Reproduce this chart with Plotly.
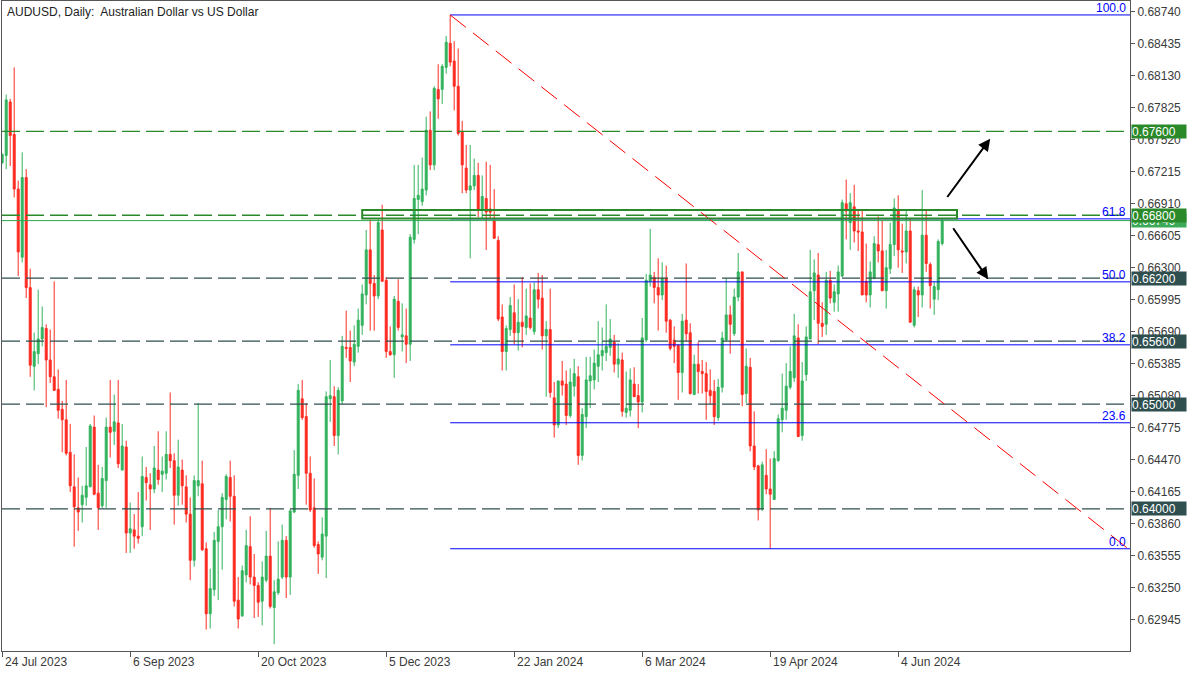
import plotly.graph_objects as go

# ---------------- data (AUDUSD daily) ----------------
opens = [0.6730, 0.6737, 0.6788, 0.6757, 0.6705, 0.6640, 0.6716, 0.6611, 0.6536, 0.6548,
         0.6562, 0.6572, 0.6542, 0.6526, 0.6514, 0.6495, 0.6485, 0.6454, 0.6421, 0.6401,
         0.6404, 0.6411, 0.6421, 0.6478, 0.6415, 0.6403, 0.6427, 0.6478, 0.6474, 0.6482,
         0.6437, 0.6459, 0.6377, 0.6380, 0.6374, 0.6383, 0.6430, 0.6423, 0.6419, 0.6437,
         0.6433, 0.6434, 0.6452, 0.6446, 0.6413, 0.6437, 0.6421, 0.6395, 0.6351, 0.6422,
         0.6424, 0.6362, 0.6300, 0.6323, 0.6369, 0.6383, 0.6409, 0.6430, 0.6412, 0.6313,
         0.6298, 0.6337, 0.6364, 0.6335, 0.6327, 0.6312, 0.6332, 0.6355, 0.6306, 0.6320,
         0.6335, 0.6370, 0.6335, 0.6397, 0.6432, 0.6505, 0.6488, 0.6434, 0.6401, 0.6366,
         0.6354, 0.6374, 0.6505, 0.6507, 0.6470, 0.6503, 0.6554, 0.6554, 0.6540, 0.6555,
         0.6575, 0.6604, 0.6647, 0.6615, 0.6603, 0.6666, 0.6618, 0.6550, 0.6547, 0.6598,
         0.6564, 0.6565, 0.6557, 0.6657, 0.6695, 0.6693, 0.6704, 0.6761, 0.6728, 0.6800,
         0.6800, 0.6821, 0.6844, 0.6827, 0.6803, 0.6760, 0.6725, 0.6704, 0.6708, 0.6718,
         0.6686, 0.6696, 0.6686, 0.6675, 0.6656, 0.6583, 0.6550, 0.6571, 0.6587, 0.6568,
         0.6578, 0.6573, 0.6582, 0.6569, 0.6609, 0.6601, 0.6565, 0.6571, 0.6506, 0.6480,
         0.6522, 0.6519, 0.6489, 0.6517, 0.6526, 0.6451, 0.6488, 0.6522, 0.6523, 0.6536,
         0.6546, 0.6549, 0.6554, 0.6559, 0.6538, 0.6542, 0.6492, 0.6494, 0.6519, 0.6508,
         0.6502, 0.6561, 0.6617, 0.6621, 0.6611, 0.6604, 0.6620, 0.6580, 0.6561, 0.6556,
         0.6530, 0.6580, 0.6568, 0.6509, 0.6538, 0.6531, 0.6529, 0.6513, 0.6512, 0.6487,
         0.6516, 0.6561, 0.6585, 0.6567, 0.6602, 0.6626, 0.6510, 0.6535, 0.6460, 0.6441,
         0.6400, 0.6432, 0.6419, 0.6409, 0.6446, 0.6485, 0.6494, 0.6516, 0.6525, 0.6563,
         0.6470, 0.6528, 0.6562, 0.6608, 0.6623, 0.6577, 0.6576, 0.6618, 0.6597, 0.6605,
         0.6622, 0.6691, 0.6673, 0.6688, 0.6665, 0.6664, 0.6617, 0.6604, 0.6620, 0.6652,
         0.6646, 0.6608, 0.6629, 0.6652, 0.6684, 0.6646, 0.6645, 0.6665, 0.6575, 0.6608,
         0.6604, 0.6661, 0.6633, 0.6600, 0.6609, 0.6653]
highs = [0.6739, 0.6795, 0.6791, 0.6821, 0.6713, 0.6740, 0.6724, 0.6629, 0.6568, 0.6609,
         0.6593, 0.6576, 0.6571, 0.6617, 0.6533, 0.6503, 0.6523, 0.6481, 0.6452, 0.6430,
         0.6422, 0.6459, 0.6481, 0.6489, 0.6442, 0.6440, 0.6487, 0.6523, 0.6509, 0.6523,
         0.6481, 0.6465, 0.6406, 0.6395, 0.6416, 0.6450, 0.6440, 0.6434, 0.6460, 0.6474,
         0.6450, 0.6474, 0.6511, 0.6453, 0.6466, 0.6447, 0.6432, 0.6411, 0.6432, 0.6501,
         0.6446, 0.6368, 0.6343, 0.6378, 0.6399, 0.6415, 0.6433, 0.6446, 0.6432, 0.6335,
         0.6346, 0.6380, 0.6393, 0.6357, 0.6330, 0.6350, 0.6379, 0.6401, 0.6332, 0.6369,
         0.6385, 0.6374, 0.6400, 0.6456, 0.6519, 0.6523, 0.6501, 0.6450, 0.6429, 0.6369,
         0.6392, 0.6512, 0.6542, 0.6517, 0.6516, 0.6565, 0.6589, 0.6570, 0.6575, 0.6591,
         0.6614, 0.6666, 0.6676, 0.6623, 0.6676, 0.6690, 0.6621, 0.6574, 0.6603, 0.6619,
         0.6596, 0.6591, 0.6662, 0.6728, 0.6728, 0.6735, 0.6774, 0.6779, 0.6803, 0.6824,
         0.6824, 0.6851, 0.6871, 0.6846, 0.6839, 0.6770, 0.6747, 0.6747, 0.6734, 0.6730,
         0.6718, 0.6731, 0.6728, 0.6705, 0.6660, 0.6595, 0.6575, 0.6602, 0.6614, 0.6600,
         0.6621, 0.6610, 0.6615, 0.6616, 0.6625, 0.6623, 0.6579, 0.6610, 0.6521, 0.6522,
         0.6541, 0.6532, 0.6534, 0.6543, 0.6536, 0.6496, 0.6545, 0.6545, 0.6552, 0.6579,
         0.6573, 0.6595, 0.6581, 0.6566, 0.6558, 0.6549, 0.6531, 0.6534, 0.6535, 0.6519,
         0.6582, 0.6624, 0.6667, 0.6626, 0.6639, 0.6635, 0.6632, 0.6581, 0.6574, 0.6557,
         0.6586, 0.6634, 0.6577, 0.6547, 0.6559, 0.6542, 0.6540, 0.6533, 0.6523, 0.6524,
         0.6569, 0.6620, 0.6594, 0.6610, 0.6644, 0.6626, 0.6553, 0.6544, 0.6493, 0.6442,
         0.6445, 0.6457, 0.6448, 0.6455, 0.6490, 0.6529, 0.6539, 0.6555, 0.6586, 0.6576,
         0.6540, 0.6574, 0.6647, 0.6638, 0.6644, 0.6597, 0.6626, 0.6627, 0.6614, 0.6632,
         0.6695, 0.6714, 0.6701, 0.6709, 0.6685, 0.6685, 0.6653, 0.6636, 0.6660, 0.6679,
         0.6675, 0.6647, 0.6673, 0.6696, 0.6699, 0.6672, 0.6684, 0.6677, 0.6612, 0.6612,
         0.6704, 0.6685, 0.6635, 0.6617, 0.6657, 0.6677]
lows = [0.6729, 0.6724, 0.6727, 0.6697, 0.6622, 0.6635, 0.6601, 0.6526, 0.6513, 0.6538,
        0.6555, 0.6497, 0.6520, 0.6513, 0.6486, 0.6454, 0.6451, 0.6416, 0.6364, 0.6379,
        0.6387, 0.6403, 0.6421, 0.6413, 0.6380, 0.6401, 0.6401, 0.6449, 0.6461, 0.6439,
        0.6437, 0.6358, 0.6358, 0.6362, 0.6367, 0.6374, 0.6408, 0.6380, 0.6415, 0.6423,
        0.6416, 0.6428, 0.6439, 0.6385, 0.6403, 0.6404, 0.6387, 0.6332, 0.6345, 0.6412,
        0.6360, 0.6285, 0.6286, 0.6317, 0.6313, 0.6342, 0.6390, 0.6388, 0.6307, 0.6286,
        0.6297, 0.6330, 0.6328, 0.6296, 0.6297, 0.6289, 0.6330, 0.6305, 0.6271, 0.6318,
        0.6333, 0.6315, 0.6318, 0.6396, 0.6419, 0.6485, 0.6404, 0.6397, 0.6363, 0.6338,
        0.6351, 0.6334, 0.6483, 0.6460, 0.6452, 0.6500, 0.6544, 0.6521, 0.6536, 0.6549,
        0.6566, 0.6595, 0.6570, 0.6570, 0.6600, 0.6617, 0.6544, 0.6546, 0.6525, 0.6570,
        0.6550, 0.6539, 0.6541, 0.6653, 0.6662, 0.6689, 0.6699, 0.6723, 0.6723, 0.6772,
        0.6786, 0.6815, 0.6822, 0.6780, 0.6756, 0.6701, 0.6701, 0.6639, 0.6704, 0.6678,
        0.6677, 0.6647, 0.6677, 0.6658, 0.6579, 0.6532, 0.6532, 0.6565, 0.6557, 0.6551,
        0.6554, 0.6566, 0.6571, 0.6566, 0.6591, 0.6552, 0.6507, 0.6506, 0.6468, 0.6477,
        0.6508, 0.6480, 0.6487, 0.6507, 0.6442, 0.6446, 0.6477, 0.6496, 0.6514, 0.6521,
        0.6532, 0.6541, 0.6546, 0.6530, 0.6525, 0.6488, 0.6487, 0.6488, 0.6507, 0.6477,
        0.6492, 0.6559, 0.6612, 0.6596, 0.6570, 0.6599, 0.6568, 0.6551, 0.6539, 0.6504,
        0.6511, 0.6560, 0.6509, 0.6509, 0.6510, 0.6510, 0.6485, 0.6500, 0.6480, 0.6484,
        0.6511, 0.6560, 0.6548, 0.6565, 0.6598, 0.6498, 0.6501, 0.6455, 0.6437, 0.6389,
        0.6398, 0.6414, 0.6362, 0.6409, 0.6445, 0.6473, 0.6485, 0.6514, 0.6521, 0.6469,
        0.6465, 0.6522, 0.6562, 0.6580, 0.6557, 0.6564, 0.6566, 0.6596, 0.6588, 0.6588,
        0.6621, 0.6657, 0.6647, 0.6654, 0.6646, 0.6604, 0.6597, 0.6592, 0.6619, 0.6635,
        0.6608, 0.6591, 0.6624, 0.6641, 0.6630, 0.6625, 0.6634, 0.6578, 0.6573, 0.6583,
        0.6592, 0.6626, 0.6591, 0.6585, 0.6599, 0.6651]
closes = [0.6738, 0.6790, 0.6756, 0.6705, 0.6645, 0.6716, 0.6611, 0.6537, 0.6550, 0.6562,
          0.6573, 0.6542, 0.6526, 0.6513, 0.6494, 0.6485, 0.6453, 0.6422, 0.6402, 0.6397,
          0.6413, 0.6422, 0.6479, 0.6414, 0.6401, 0.6429, 0.6478, 0.6473, 0.6483, 0.6443,
          0.6460, 0.6377, 0.6381, 0.6374, 0.6372, 0.6431, 0.6425, 0.6419, 0.6439, 0.6428,
          0.6436, 0.6452, 0.6446, 0.6413, 0.6440, 0.6422, 0.6395, 0.6351, 0.6427, 0.6427,
          0.6361, 0.6300, 0.6324, 0.6370, 0.6383, 0.6411, 0.6431, 0.6412, 0.6312, 0.6295,
          0.6341, 0.6365, 0.6335, 0.6327, 0.6311, 0.6335, 0.6355, 0.6307, 0.6321, 0.6333,
          0.6370, 0.6335, 0.6398, 0.6433, 0.6513, 0.6487, 0.6434, 0.6399, 0.6365, 0.6357,
          0.6376, 0.6507, 0.6508, 0.6470, 0.6513, 0.6555, 0.6553, 0.6541, 0.6557, 0.6580,
          0.6605, 0.6647, 0.6615, 0.6603, 0.6673, 0.6617, 0.6550, 0.6547, 0.6600, 0.6573,
          0.6566, 0.6557, 0.6659, 0.6696, 0.6699, 0.6705, 0.6761, 0.6728, 0.6801, 0.6791,
          0.6822, 0.6845, 0.6826, 0.6803, 0.6758, 0.6728, 0.6704, 0.6708, 0.6718, 0.6686,
          0.6698, 0.6683, 0.6683, 0.6658, 0.6581, 0.6550, 0.6572, 0.6594, 0.6568, 0.6578,
          0.6574, 0.6584, 0.6573, 0.6609, 0.6600, 0.6565, 0.6571, 0.6511, 0.6480, 0.6522,
          0.6518, 0.6489, 0.6521, 0.6529, 0.6451, 0.6490, 0.6523, 0.6527, 0.6539, 0.6547,
          0.6551, 0.6555, 0.6562, 0.6538, 0.6543, 0.6493, 0.6496, 0.6523, 0.6507, 0.6502,
          0.6563, 0.6618, 0.6623, 0.6611, 0.6604, 0.6620, 0.6579, 0.6553, 0.6555, 0.6530,
          0.6579, 0.6567, 0.6510, 0.6538, 0.6531, 0.6529, 0.6512, 0.6508, 0.6488, 0.6516,
          0.6563, 0.6585, 0.6576, 0.6602, 0.6626, 0.6509, 0.6536, 0.6460, 0.6440, 0.6399,
          0.6442, 0.6419, 0.6414, 0.6448, 0.6486, 0.6496, 0.6517, 0.6531, 0.6565, 0.6469,
          0.6522, 0.6564, 0.6607, 0.6625, 0.6577, 0.6574, 0.6618, 0.6601, 0.6607, 0.6626,
          0.6692, 0.6684, 0.6692, 0.6665, 0.6664, 0.6604, 0.6604, 0.6626, 0.6653, 0.6646,
          0.6608, 0.6630, 0.6652, 0.6687, 0.6647, 0.6645, 0.6665, 0.6578, 0.6609, 0.6604,
          0.6661, 0.6634, 0.6613, 0.6612, 0.6655, 0.6675]

# date axis: bar positions of the date labels and their texts
date_tick_bars = [0, 32, 64, 96, 128, 160, 192, 224]
date_tick_labels = ["24 Jul 2023", "6 Sep 2023", "20 Oct 2023", "5 Dec 2023",
                    "22 Jan 2024", "6 Mar 2024", "19 Apr 2024", "4 Jun 2024"]

# price axis
price_ticks = [0.62945, 0.63250, 0.63555, 0.63860, 0.64165, 0.64470, 0.64775,
               0.65080, 0.65385, 0.65690, 0.65995, 0.66300, 0.66605, 0.66910,
               0.67215, 0.67520, 0.67825, 0.68130, 0.68435, 0.68740]
price_tick_labels = ["0.62945", "0.63250", "0.63555", "0.63860", "0.64165", "0.64470",
                     "0.64775", "0.65080", "0.65385", "0.65690", "0.65995", "0.66300",
                     "0.66605", "0.66910", "0.67215", "0.67520", "0.67825", "0.68130",
                     "0.68435", "0.68740"]

# horizontal levels
level_values = [0.6760, 0.6680, 0.6620, 0.6560, 0.6500, 0.6400]
level_texts = ["0.67600", "0.66800", "0.66200", "0.65600", "0.65000", "0.64000"]
level_colors = ["#2A8A2A", "#2A8A2A", "#2F4F4F", "#2F4F4F", "#2F4F4F", "#2F4F4F"]
last_price = 0.66749
last_price_text = "0.66749"

# Fibonacci retracement (Dec 28 2023 high -> Apr 19 2024 low)
fib_high = 0.6871
fib_low = 0.6362
fib_start_bar = 112
fib_end_bar = 281.5
fib_ratios = [0.0, 23.6, 38.2, 50.0, 61.8, 100.0]
fib_texts = ["0.0", "23.6", "38.2", "50.0", "61.8", "100.0"]

# resistance zone box
zone_bars = [90, 238.7]
zone_prices = [0.6677, 0.6685]

# scenario arrows: (tail bar, tail price, head bar, head price)
arrow_up = [236.0, 0.6696, 247.0, 0.6753]
arrow_down = [237.5, 0.6669, 246.5, 0.6619]

# ---------------- figure ----------------
GREEN = "#33B25C"
RED = "#FF2A20"
AXIS = "#555555"
TXT = "#3a3a3a"
FONT = "Liberation Sans"

x_range = [-0.05, 281.95]
y_range = [0.62645, 0.68843]

bars = list(range(len(opens)))

fig = go.Figure()
fig.add_trace(go.Candlestick(
    x=bars, open=opens, high=highs, low=lows, close=closes,
    increasing=dict(line=dict(color=GREEN, width=1), fillcolor=GREEN),
    decreasing=dict(line=dict(color=RED, width=1), fillcolor=RED),
    whiskerwidth=0, hoverinfo="skip", showlegend=False,
))

shapes = []
# current price line
shapes.append(dict(type="line", xref="paper", yref="y", x0=0, x1=1,
                   y0=last_price, y1=last_price, layer="above",
                   line=dict(color="#2DA84E", width=1)))
# dashed horizontal levels
for v, c in zip(level_values, level_colors):
    shapes.append(dict(type="line", xref="paper", yref="y", x0=0, x1=1,
                       y0=v, y1=v, layer="above",
                       line=dict(color=c, width=1.3, dash="18px,6px")))
# fibonacci levels
for r in fib_ratios:
    lv = fib_low + r / 100.0 * (fib_high - fib_low)
    shapes.append(dict(type="line", xref="x", yref="y", x0=fib_start_bar, x1=x_range[1],
                       y0=lv, y1=lv, layer="above",
                       line=dict(color="#0000FF", width=1)))
# fibonacci trend line
shapes.append(dict(type="line", xref="x", yref="y", x0=fib_start_bar, x1=fib_end_bar,
                   y0=fib_high, y1=fib_low, layer="above",
                   line=dict(color="#FF0000", width=1, dash="20px,9px")))
# zone rectangle
shapes.append(dict(type="rect", xref="x", yref="y", x0=zone_bars[0], x1=zone_bars[1],
                   y0=zone_prices[0], y1=zone_prices[1], layer="above",
                   line=dict(color="#2A8A2A", width=2), fillcolor="rgba(0,0,0,0)"))

annotations = []
# title
annotations.append(dict(xref="paper", yref="paper", x=0.003, y=1 - 11 / 650,
                        xanchor="left", yanchor="middle", showarrow=False,
                        text="AUDUSD, Daily:\u00a0 Australian Dollar vs US Dollar",
                        font=dict(family=FONT, size=12, color="#222222")))
# date labels (left aligned at their bar)
for b, t in zip(date_tick_bars, date_tick_labels):
    annotations.append(dict(xref="x", yref="paper", x=b + 0.1, y=-11 / 650,
                            xanchor="left", yanchor="middle", showarrow=False,
                            text=t, font=dict(family=FONT, size=12, color=TXT)))
# fibonacci labels
for r, t in zip(fib_ratios, fib_texts):
    lv = fib_low + r / 100.0 * (fib_high - fib_low)
    annotations.append(dict(xref="paper", yref="y", x=0.9985, y=lv,
                            xanchor="right", yanchor="bottom", showarrow=False,
                            text=t, yshift=-2,
                            font=dict(family=FONT, size=12, color="#0000FF")))
# current price tag (partly hidden)
annotations.append(dict(xref="paper", yref="y", x=1.0009, y=last_price,
                        xanchor="left", yanchor="middle", showarrow=False,
                        text=last_price_text, width=54, height=13, align="left",
                        bgcolor="#3DAA5A", borderpad=0,
                        font=dict(family=FONT, size=12, color="white")))
# level price tags
for v, t, c in zip(level_values, level_texts, level_colors):
    annotations.append(dict(xref="paper", yref="y", x=1.0009, y=v,
                            xanchor="left", yanchor="middle", showarrow=False,
                            text=t, width=54, height=13, align="left",
                            bgcolor=c, borderpad=0,
                            font=dict(family=FONT, size=12, color="white")))
# arrows
for a in (arrow_up, arrow_down):
    annotations.append(dict(xref="x", yref="y", axref="x", ayref="y",
                            x=a[2], y=a[3], ax=a[0], ay=a[1], text="",
                            showarrow=True, arrowhead=2, arrowsize=1.2,
                            arrowwidth=2, arrowcolor="#000000"))

fig.update_layout(
    width=1200, height=675,
    margin=dict(l=2, r=70, t=1, b=24),
    paper_bgcolor="white", plot_bgcolor="white",
    showlegend=False, hovermode=False,
    shapes=shapes, annotations=annotations,
    xaxis=dict(range=x_range, showgrid=False, zeroline=False,
               rangeslider=dict(visible=False),
               tickmode="array", tickvals=date_tick_bars, showticklabels=False,
               ticks="outside", ticklen=5, tickcolor=AXIS,
               showline=True, linecolor=AXIS, linewidth=1, mirror=True),
    yaxis=dict(range=y_range, side="right", showgrid=False, zeroline=False,
               tickmode="array", tickvals=price_ticks, ticktext=price_tick_labels,
               ticks="outside", ticklen=4, tickcolor=AXIS,
               tickfont=dict(family=FONT, size=12, color=TXT),
               showline=True, linecolor=AXIS, linewidth=1, mirror=True),
)

fig.write_html("out.html",
               config={"displayModeBar": False, "staticPlot": True},
               post_script="document.body.style.margin='0px';document.body.style.padding='0px';")
